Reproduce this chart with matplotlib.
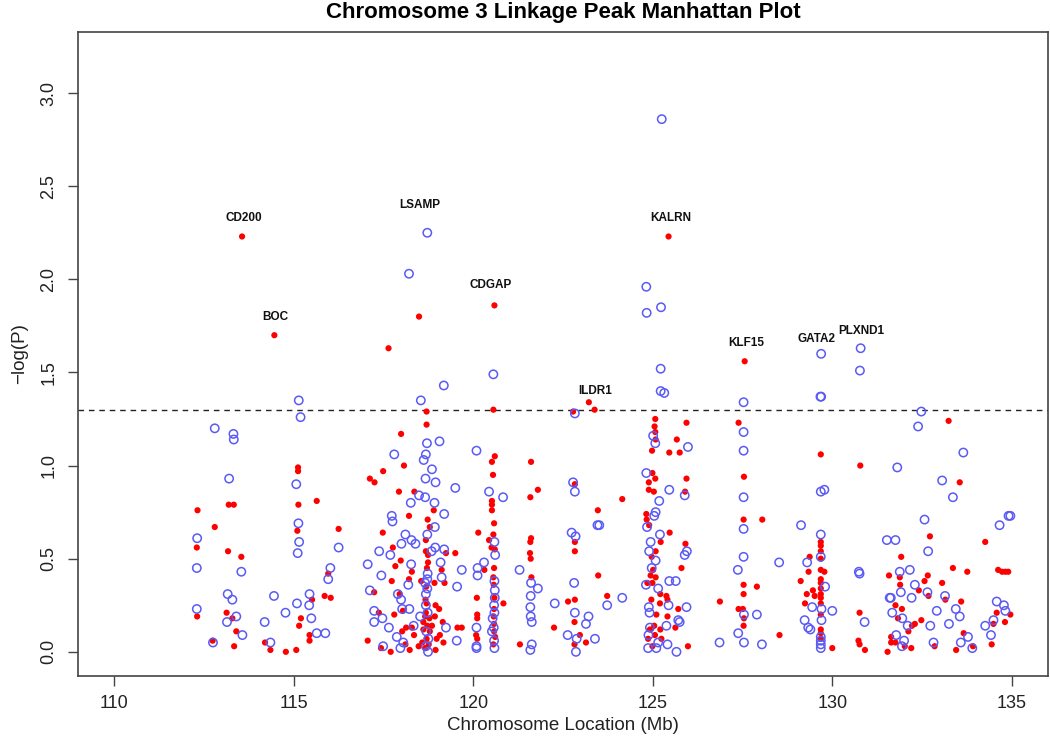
import numpy as np
import matplotlib
matplotlib.use("Agg")
import matplotlib.pyplot as plt

plt.rcParams['font.family'] = ['Liberation Sans', 'DejaVu Sans']

# open blue circles: (Mb, -log P)
blue_pts = [
	# 112-116.5 Mb
	(115.14, 1.35), (115.19, 1.26), (112.80, 1.20), (113.32, 1.17), (113.33, 1.14), (113.20, 0.93),
	(115.07, 0.90), (115.13, 0.69), (115.15, 0.59), (115.11, 0.53), (112.31, 0.61), (112.30, 0.45),
	(116.25, 0.56), (116.02, 0.45), (115.96, 0.39), (113.54, 0.43), (113.16, 0.31), (113.29, 0.28),
	(112.30, 0.23), (114.45, 0.30), (115.09, 0.26), (115.44, 0.31), (115.43, 0.25), (115.49, 0.18),
	(113.40, 0.19), (113.14, 0.16), (114.77, 0.21), (114.19, 0.16), (113.57, 0.09), (112.75, 0.05),
	(114.35, 0.05), (115.64, 0.10), (115.88, 0.10),
	# 116.5-123 Mb
	(119.18, 1.43), (118.54, 1.35), (118.71, 1.12), (119.06, 1.13), (118.68, 1.06), (118.62, 1.03),
	(117.80, 1.06), (118.85, 0.98), (118.67, 0.93), (118.95, 0.91), (119.50, 0.88), (118.49, 0.84),
	(118.66, 0.83), (118.26, 0.80), (118.92, 0.80), (119.19, 0.74), (117.73, 0.73), (117.75, 0.70),
	(118.93, 0.67), (118.72, 0.63), (118.11, 0.63), (118.28, 0.60), (118.39, 0.58), (118.00, 0.58),
	(118.94, 0.56), (119.19, 0.55), (117.38, 0.54), (117.69, 0.52), (118.84, 0.54), (117.06, 0.47),
	(118.27, 0.47), (119.09, 0.48), (119.68, 0.44), (117.44, 0.41), (118.73, 0.42), (119.12, 0.40),
	(118.19, 0.36), (118.66, 0.37), (117.12, 0.33), (119.55, 0.35), (117.90, 0.31), (118.68, 0.31),
	(117.99, 0.28), (118.02, 0.23), (118.22, 0.23), (117.24, 0.22), (117.47, 0.18), (117.24, 0.16),
	(118.52, 0.19), (118.73, 0.21), (119.24, 0.13), (117.65, 0.13), (118.34, 0.14), (117.87, 0.08),
	(118.05, 0.05), (117.97, 0.02), (117.49, 0.03), (118.74, 0.00), (119.54, 0.06), (118.69, 0.11),
	(118.72, 0.39), (118.72, 0.34), (118.68, 0.25), (118.75, 0.07), (118.68, 0.03),
	(120.56, 1.49), (120.09, 1.08), (120.44, 0.86), (120.83, 0.83), (120.59, 0.59), (120.61, 0.52),
	(120.30, 0.48), (120.12, 0.45), (120.12, 0.41), (120.59, 0.38), (120.60, 0.33), (120.60, 0.29),
	(120.58, 0.25), (120.59, 0.21), (120.54, 0.18), (120.57, 0.13), (120.52, 0.11), (120.58, 0.06),
	(120.59, 0.02), (120.09, 0.13), (120.09, 0.03), (120.09, 0.02),
	(121.29, 0.44), (121.61, 0.37), (121.80, 0.34), (121.60, 0.30), (121.59, 0.24), (121.60, 0.19),
	(121.63, 0.16), (121.63, 0.04), (121.59, 0.01), (122.27, 0.26), (122.63, 0.09),
	# peaks above threshold
	(118.72, 2.25), (118.21, 2.03), (125.25, 2.86), (124.82, 1.96), (124.83, 1.82), (125.23, 1.85),
	(125.22, 1.52), (129.69, 1.60), (130.79, 1.63), (130.77, 1.51),
	# 122.7-129 Mb
	(125.22, 1.40), (125.32, 1.39), (127.53, 1.34), (122.83, 1.28), (127.53, 1.18), (127.53, 1.08),
	(125.01, 1.16), (125.07, 1.12), (125.98, 1.10), (124.82, 0.96), (125.46, 0.87), (125.89, 0.84),
	(125.18, 0.81), (127.53, 0.83), (122.78, 0.91), (122.83, 0.86), (125.08, 0.75), (125.04, 0.73),
	(124.84, 0.67), (123.46, 0.68), (123.51, 0.68), (127.53, 0.66), (125.20, 0.63), (122.74, 0.64),
	(122.85, 0.62), (124.94, 0.59), (125.95, 0.54), (125.89, 0.52), (124.90, 0.54), (125.08, 0.49),
	(127.53, 0.51), (128.52, 0.48), (127.37, 0.44), (124.97, 0.45), (125.46, 0.38), (125.64, 0.38),
	(124.81, 0.36), (125.15, 0.34), (122.81, 0.37), (124.15, 0.29), (123.73, 0.25), (125.44, 0.25),
	(125.94, 0.24), (124.89, 0.24), (122.83, 0.21), (123.21, 0.19), (123.14, 0.15), (124.91, 0.21),
	(125.71, 0.17), (125.75, 0.16), (125.38, 0.14), (124.92, 0.13), (127.90, 0.20), (127.54, 0.20),
	(127.38, 0.10), (123.39, 0.07), (122.88, 0.07), (122.86, 0.00), (124.87, 0.02), (125.10, 0.02),
	(125.41, 0.04), (125.66, 0.00), (126.86, 0.05), (127.54, 0.05), (128.04, 0.04), (124.88, 0.09),
	(125.15, 0.05),
	# 129-135 Mb
	(129.67, 1.37), (129.69, 1.37), (132.48, 1.29), (132.39, 1.21), (133.65, 1.07), (131.81, 0.99),
	(133.06, 0.92), (133.36, 0.83), (129.68, 0.86), (129.78, 0.87), (129.13, 0.68), (132.57, 0.71),
	(134.66, 0.68), (134.91, 0.73), (134.96, 0.73), (129.68, 0.63), (131.52, 0.60), (131.76, 0.60),
	(132.67, 0.54), (129.68, 0.51), (129.30, 0.48), (130.74, 0.43), (130.76, 0.42), (131.88, 0.43),
	(132.16, 0.44), (132.30, 0.36), (129.80, 0.35), (131.91, 0.32), (131.60, 0.29), (131.63, 0.29),
	(132.21, 0.29), (132.65, 0.32), (133.14, 0.30), (134.58, 0.27), (134.78, 0.25), (134.82, 0.22),
	(129.44, 0.24), (129.70, 0.23), (130.00, 0.22), (132.91, 0.22), (133.44, 0.23), (131.67, 0.21),
	(131.95, 0.18), (133.55, 0.19), (134.49, 0.17), (129.23, 0.17), (130.90, 0.16), (129.70, 0.17),
	(132.10, 0.14), (132.73, 0.14), (133.25, 0.15), (134.26, 0.14), (129.33, 0.13), (129.39, 0.12),
	(131.78, 0.09), (134.42, 0.09), (133.78, 0.08), (129.68, 0.08), (132.00, 0.06), (133.58, 0.05),
	(132.82, 0.05), (129.68, 0.06), (129.68, 0.04), (129.68, 0.02), (131.94, 0.03), (133.90, 0.02),
]

# filled red dots: (Mb, -log P)
red_pts = [
	# peaks above threshold
	(113.56, 2.23), (114.46, 1.70), (118.49, 1.80), (117.64, 1.63), (120.59, 1.86), (125.44, 2.23),
	(127.56, 1.56),
	# 112-116.5 Mb
	(115.12, 0.99), (115.12, 0.97), (115.13, 0.79), (115.64, 0.81), (112.32, 0.76), (113.19, 0.79),
	(113.33, 0.79), (112.80, 0.67), (115.10, 0.65), (116.25, 0.66), (112.30, 0.56), (113.17, 0.54),
	(113.54, 0.51), (115.96, 0.42), (115.86, 0.30), (116.03, 0.29), (115.51, 0.28), (113.13, 0.21),
	(112.31, 0.19), (113.29, 0.18), (115.20, 0.18), (115.15, 0.14), (113.40, 0.11), (115.44, 0.09),
	(115.44, 0.06), (112.74, 0.06), (113.34, 0.03), (114.20, 0.05), (114.35, 0.01), (114.78, 0.00),
	(115.07, 0.01),
	# 116.5-123 Mb
	(118.70, 1.29), (118.70, 1.22), (117.99, 1.17), (118.07, 1.00), (117.49, 0.97), (117.12, 0.93),
	(117.25, 0.91), (117.93, 0.86), (118.36, 0.86), (118.90, 0.76), (118.21, 0.73), (118.73, 0.71),
	(118.79, 0.67), (117.48, 0.64), (118.68, 0.60), (117.76, 0.56), (118.68, 0.54), (118.74, 0.52),
	(119.24, 0.53), (119.50, 0.53), (117.98, 0.49), (117.83, 0.46), (118.74, 0.48), (118.71, 0.45),
	(118.29, 0.43), (119.12, 0.44), (117.73, 0.38), (118.21, 0.39), (118.55, 0.38), (118.69, 0.35),
	(118.92, 0.37), (119.20, 0.37), (117.24, 0.32), (117.95, 0.31), (118.67, 0.28), (118.70, 0.26),
	(118.95, 0.25), (119.05, 0.23), (118.04, 0.22), (117.37, 0.21), (117.80, 0.20), (118.66, 0.19),
	(118.78, 0.18), (118.93, 0.19), (119.15, 0.16), (119.56, 0.13), (119.68, 0.13), (118.13, 0.13),
	(118.29, 0.13), (118.02, 0.11), (118.61, 0.12), (118.79, 0.11), (119.07, 0.09), (118.35, 0.09),
	(117.06, 0.06), (118.70, 0.07), (118.98, 0.07), (119.17, 0.05), (118.11, 0.04), (118.48, 0.03),
	(118.23, 0.01), (117.43, 0.02), (117.70, 0.00), (118.66, 0.02), (118.95, 0.01), (118.76, 0.04),
	(118.58, 0.05), (118.85, 0.14), (118.68, 0.21), (118.72, 0.14), (118.61, 0.16),
	(120.56, 1.30), (120.60, 1.05), (120.52, 1.02), (120.55, 0.95), (120.52, 0.81), (120.52, 0.79),
	(120.52, 0.76), (120.58, 0.69), (120.56, 0.63), (120.14, 0.64), (120.44, 0.60), (120.51, 0.56),
	(120.60, 0.55), (120.58, 0.45), (120.31, 0.44), (120.56, 0.40), (120.57, 0.36), (120.59, 0.29),
	(120.84, 0.26), (120.10, 0.29), (120.58, 0.23), (120.11, 0.20), (120.11, 0.18), (120.57, 0.19),
	(120.58, 0.15), (120.58, 0.11), (120.61, 0.08), (120.08, 0.09), (120.11, 0.07), (120.56, 0.04),
	(122.25, 0.13), (121.30, 0.04),
	(121.61, 1.02), (121.80, 0.87), (121.59, 0.83), (121.61, 0.61), (121.59, 0.59), (121.58, 0.53),
	(121.60, 0.50), (121.62, 0.40), (122.78, 1.29), (122.64, 0.27),
	# 122.7-129 Mb
	(123.22, 1.34), (123.38, 1.30), (125.07, 1.25), (125.05, 1.21), (125.07, 1.18), (125.08, 1.14),
	(125.94, 1.23), (125.67, 1.14), (127.39, 1.23), (124.98, 1.08), (125.46, 1.07), (125.75, 1.07),
	(124.99, 0.96), (125.07, 0.93), (124.89, 0.91), (125.94, 0.93), (127.54, 0.94), (124.89, 0.87),
	(125.03, 0.86), (125.90, 0.86), (122.83, 0.90), (124.15, 0.82), (123.47, 0.76), (124.82, 0.74),
	(124.83, 0.71), (124.90, 0.68), (125.47, 0.64), (127.53, 0.71), (128.05, 0.71), (122.83, 0.59),
	(122.83, 0.54), (125.22, 0.59), (125.08, 0.54), (124.97, 0.51), (125.91, 0.58), (125.01, 0.44),
	(124.94, 0.41), (125.08, 0.40), (125.80, 0.45), (123.48, 0.41), (124.85, 0.37), (124.99, 0.37),
	(125.21, 0.31), (125.38, 0.30), (125.41, 0.28), (124.96, 0.28), (125.20, 0.26), (122.83, 0.28),
	(123.73, 0.30), (127.53, 0.36), (127.53, 0.31), (127.90, 0.35), (126.87, 0.27), (127.39, 0.23),
	(127.51, 0.23), (127.54, 0.18), (127.53, 0.14), (128.53, 0.09), (125.71, 0.23), (125.41, 0.19),
	(125.10, 0.20), (125.04, 0.14), (124.92, 0.12), (125.21, 0.12), (125.63, 0.13), (125.24, 0.07),
	(124.99, 0.03), (125.98, 0.03), (122.82, 0.16), (122.97, 0.09), (122.82, 0.04), (123.14, 0.05),
	(124.87, 0.07), (125.06, 0.09),
	# 129-135 Mb
	(133.24, 1.24), (129.68, 1.06), (130.78, 1.00), (133.55, 0.91), (132.72, 0.62), (134.26, 0.59),
	(131.92, 0.51), (129.68, 0.59), (129.68, 0.57), (129.68, 0.54), (129.68, 0.50), (129.37, 0.51),
	(129.34, 0.43), (129.68, 0.44), (129.78, 0.43), (129.68, 0.39), (129.68, 0.37), (129.68, 0.34),
	(129.68, 0.31), (129.68, 0.29), (129.68, 0.26), (129.12, 0.38), (129.29, 0.31), (129.46, 0.33),
	(129.51, 0.30), (129.24, 0.26), (131.58, 0.41), (131.88, 0.40), (131.89, 0.36), (132.66, 0.41),
	(132.57, 0.38), (132.41, 0.33), (133.06, 0.37), (132.68, 0.30), (133.15, 0.28), (133.36, 0.45),
	(133.76, 0.43), (134.62, 0.44), (134.73, 0.43), (134.82, 0.43), (134.90, 0.43), (133.59, 0.27),
	(131.76, 0.25), (131.94, 0.23), (131.83, 0.18), (132.48, 0.17), (132.30, 0.15), (132.22, 0.14),
	(132.12, 0.11), (134.49, 0.15), (134.81, 0.16), (134.96, 0.20), (134.58, 0.21), (130.76, 0.21),
	(129.68, 0.20), (129.68, 0.12), (129.68, 0.10), (129.68, 0.07), (130.00, 0.02), (130.73, 0.06),
	(130.76, 0.04), (130.91, 0.01), (131.54, 0.00), (131.64, 0.08), (131.64, 0.05), (131.76, 0.05),
	(132.02, 0.03), (132.20, 0.02), (132.85, 0.03), (133.45, 0.01), (133.66, 0.10), (133.92, 0.03),
	(134.44, 0.04),
]

# gene names and where their label sits
genes = ["CD200", "BOC", "LSAMP", "CDGAP", "ILDR1", "KALRN", "KLF15", "GATA2", "PLXND1"]
gene_x = [113.60, 114.49, 118.50, 120.49, 123.39, 125.49, 127.59, 129.56, 130.80]
gene_y = [2.33, 1.80, 2.40, 1.97, 1.40, 2.33, 1.66, 1.68, 1.72]

threshold = -np.log10(0.05)
x_ticks = [110, 115, 120, 125, 130, 135]
y_ticks = [0.0, 0.5, 1.0, 1.5, 2.0, 2.5, 3.0]


def main():
	blue = np.array(blue_pts)
	red = np.array(red_pts)

	fig = plt.figure(figsize=(10.5, 7.42), dpi=100)
	ax = fig.add_axes([0.0746, 0.0894, 0.9232, 0.8675])

	ax.scatter(red[:, 0], red[:, 1], s=20, c='#ff0000', edgecolors='none', zorder=3)
	ax.scatter(blue[:, 0], blue[:, 1], s=36, facecolors='none', edgecolors='#5a5af5',
			linewidths=1.1, zorder=4)
	ax.axhline(threshold, color='#222222', lw=1.0, ls=(0, (4, 3.5)), zorder=2)

	for name, gx, gy in zip(genes, gene_x, gene_y):
		ax.text(gx, gy, name, ha='center', va='center', fontsize=8.5, fontweight='bold', color='#111111')

	ax.set_xlim(109, 136)
	ax.set_ylim(-0.128, 3.328)
	ax.set_xticks(x_ticks)
	ax.set_yticks(y_ticks)
	ax.set_yticklabels(["%.1f" % v for v in y_ticks])

	for sp in ax.spines.values():
		sp.set_color('#444444')
		sp.set_linewidth(1.2)
	ax.tick_params(axis='both', length=7.2, width=1.0, color='#444444', labelsize=13, labelcolor='#222222')
	ax.tick_params(axis='x', pad=7)
	ax.tick_params(axis='y', pad=8, labelrotation=90)
	for lab in ax.get_yticklabels():
		lab.set_va('center')

	ax.set_xlabel('Chromosome Location (Mb)', fontsize=13.5, color='#222222', labelpad=3)
	ax.set_ylabel('\u2212log(P)', fontsize=13.5, color='#222222', labelpad=9)
	ax.set_title('Chromosome 3 Linkage Peak Manhattan Plot', fontsize=16, fontweight='bold', pad=10)

	fig.savefig('out.png', dpi=100)


if __name__ == "__main__":
	main()
